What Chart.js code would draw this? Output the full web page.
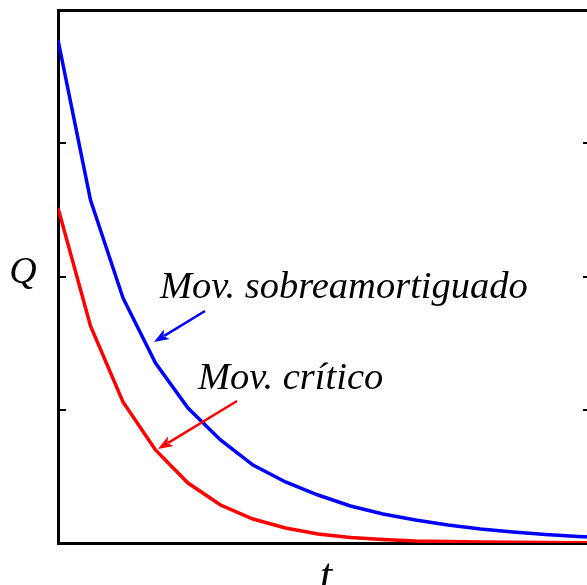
<!DOCTYPE html>
<html>
<head>
<meta charset="utf-8">
<script src="https://cdn.jsdelivr.net/npm/chart.js@4.4.0/dist/chart.umd.min.js"></script>
<style>
html,body{margin:0;padding:0;overflow:hidden;background:#fff;}
#wrap{position:relative;width:600px;height:585px;}
</style>
</head>
<body>
<div id="wrap"><canvas id="c"></canvas></div>
<script>
// time samples
const times = [0,0.3,0.6,0.9,1.2,1.5,1.8,2.1,2.4,2.7,3.0,3.3,3.6,3.9,4.2,4.5,4.8,5.1];
// overdamped charge
const qOver = [3.775,2.574,1.839,1.351,1.013,0.773,0.585,0.458,0.360,0.278,0.218,0.173,0.135,0.105,0.083,0.064,0.049,0.038];
// critical damping charge
const qCrit = [2.514,1.629,1.058,0.698,0.450,0.285,0.180,0.113,0.068,0.041,0.026,0.015,0.011,0.0075,0.005,0.003,0.002,0.001];
const yTicks = [1,2,3];
const labels = [
  {text:'Mov. sobreamortiguado', x:0.941, y:1.915, color:'#000'},
  {text:'Mov. crítico', x:1.292, y:1.232, color:'#000'}
];
const arrows = [
  {x1:1.357, y1:1.741, x2:0.886, y2:1.508, color:'#0000ff'},
  {x1:1.652, y1:1.066, x2:0.923, y2:0.705, color:'#ff0000'}
];

const extras = {
  id:'extras',
  afterDraw(chart){
    const {ctx, chartArea:a, scales:{x,y}} = chart;
    ctx.save();
    // inward ticks
    ctx.strokeStyle='#000'; ctx.lineWidth=2;
    yTicks.forEach(v=>{
      const py = Math.round(y.getPixelForValue(v));
      ctx.beginPath();
      ctx.moveTo(a.left, py); ctx.lineTo(a.left+8, py);
      ctx.moveTo(a.right-8, py); ctx.lineTo(a.right, py);
      ctx.stroke();
    });
    // arrows
    arrows.forEach(ar=>{
      const x1=x.getPixelForValue(ar.x1), y1=y.getPixelForValue(ar.y1);
      const x2=x.getPixelForValue(ar.x2), y2=y.getPixelForValue(ar.y2);
      const ang=Math.atan2(y2-y1,x2-x1);
      const hl=15, hw=5.5;
      ctx.strokeStyle=ar.color; ctx.fillStyle=ar.color; ctx.lineWidth=2.5;
      ctx.beginPath(); ctx.moveTo(x1,y1);
      ctx.lineTo(x2-Math.cos(ang)*hl*0.8, y2-Math.sin(ang)*hl*0.8); ctx.stroke();
      ctx.beginPath();
      ctx.moveTo(x2,y2);
      ctx.lineTo(x2-Math.cos(ang)*hl - Math.sin(ang)*hw, y2-Math.sin(ang)*hl + Math.cos(ang)*hw);
      ctx.lineTo(x2-Math.cos(ang)*hl*0.75, y2-Math.sin(ang)*hl*0.75);
      ctx.lineTo(x2-Math.cos(ang)*hl + Math.sin(ang)*hw, y2-Math.sin(ang)*hl - Math.cos(ang)*hw);
      ctx.closePath(); ctx.fill();
    });
    // labels
    ctx.font='italic 38.5px "Liberation Serif", "DejaVu Serif", serif';
    ctx.textBaseline='middle'; ctx.textAlign='left';
    labels.forEach(l=>{
      ctx.fillStyle=l.color;
      ctx.fillText(l.text, x.getPixelForValue(l.x), y.getPixelForValue(l.y));
    });
    // axis names
    ctx.fillStyle='#000';
    ctx.textAlign='center';
    ctx.font='italic 38px "Liberation Serif", serif';
    ctx.fillText('Q', 23, (a.top+a.bottom)/2 - 3);
    ctx.font='italic 44px "Liberation Serif", serif';
    ctx.textBaseline='alphabetic';
    ctx.fillText('t', 326, a.bottom + 46);
    ctx.restore();
  }
};

const axisCommon = {
  display:true,
  ticks:{display:false},
  grid:{display:false, drawTicks:false},
  border:{display:true, color:'#000', width:3}
};

new Chart(document.getElementById('c'), {
  type:'line',
  data:{
    datasets:[
      {data: times.map((t,i)=>({x:t,y:qOver[i]})), borderColor:'#0000ff', borderWidth:3.5, pointRadius:0, tension:0, fill:false},
      {data: times.map((t,i)=>({x:t,y:qCrit[i]})), borderColor:'#ff0000', borderWidth:3.5, pointRadius:0, tension:0, fill:false}
    ]
  },
  options:{
    responsive:true, maintainAspectRatio:false, animation:false,
    layout:{padding:{left:58,top:10,right:9,bottom:42}},
    plugins:{legend:{display:false}, tooltip:{enabled:false}},
    scales:{
      x:{...axisCommon, type:'linear', position:'bottom', min:0, max:4.92},
      x2:{...axisCommon, type:'linear', position:'top', min:0, max:4.92},
      y:{...axisCommon, type:'linear', position:'left', min:0, max:4},
      y2:{...axisCommon, type:'linear', position:'right', min:0, max:4}
    }
  },
  plugins:[extras]
});
</script>
</body>
</html>
